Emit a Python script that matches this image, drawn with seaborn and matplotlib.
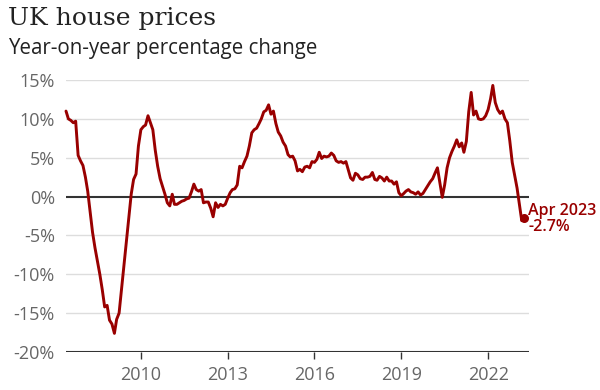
import pandas as pd
import matplotlib
matplotlib.use("Agg")
import matplotlib.pyplot as plt
import matplotlib.dates as mdates
from matplotlib.ticker import FuncFormatter
import seaborn as sns

# ===============================
# Data: annual % change, monthly from Jun 2007 to Apr 2023
# ===============================
start_month = "2007-06-01"
v2007 = [11.0, 10.0, 9.8, 9.5, 9.7, 5.3, 4.6]
v2008 = [4.0, 2.5, 0.7, -2.0, -4.6, -6.6, -8.3, -10.0, -12.0, -14.2, -14.0, -15.9]
v2009 = [-16.4, -17.6, -15.8, -15.0, -12.0, -9.0, -6.0, -2.8, 0.3, 2.2, 2.9, 6.5]
v2010 = [8.6, 9.0, 9.2, 10.4, 9.5, 8.6, 6.0, 3.9, 2.3, 1.3, 0.3, -0.8]
v2011 = [-1.2, 0.3, -1.0, -1.0, -0.8, -0.6, -0.5, -0.3, -0.2, 0.6, 1.6, 0.9]
v2012 = [0.7, 0.9, -0.8, -0.7, -0.7, -1.5, -2.6, -0.8, -1.4, -1.0, -1.2, -1.0]
v2013 = [-0.2, 0.5, 0.9, 1.0, 1.5, 3.9, 3.7, 4.5, 5.2, 6.5, 8.2, 8.6]
v2014 = [8.8, 9.4, 10.0, 10.9, 11.1, 11.8, 10.6, 11.0, 9.4, 8.3, 7.8, 7.0]
v2015 = [6.5, 5.4, 5.1, 5.2, 4.6, 3.3, 3.5, 3.2, 3.8, 3.9, 3.7, 4.5]
v2016 = [4.4, 4.8, 5.7, 4.9, 5.2, 5.1, 5.2, 5.6, 5.3, 4.6, 4.4, 4.5]
v2017 = [4.3, 4.5, 3.5, 2.4, 2.1, 3.0, 2.8, 2.3, 2.2, 2.5, 2.5, 2.6]
v2018 = [3.1, 2.2, 2.1, 2.6, 2.4, 2.0, 2.5, 2.0, 2.0, 1.6, 1.9, 0.5]
v2019 = [0.1, 0.4, 0.7, 0.9, 0.6, 0.5, 0.3, 0.6, 0.2, 0.4, 0.9, 1.4]
v2020 = [1.9, 2.3, 3.0, 3.7, 1.8, -0.1, 1.5, 3.7, 5.0, 5.8, 6.5, 7.3]
v2021 = [6.4, 6.9, 5.7, 7.1, 10.9, 13.4, 10.5, 11.0, 10.0, 9.9, 10.0, 10.4]
v2022 = [11.2, 12.6, 14.3, 12.1, 11.2, 10.7, 11.0, 10.0, 9.5, 7.2, 4.4, 2.8]
v2023 = [1.1, -1.1, -3.1, -2.7]

y_ticks = [15, 10, 5, 0, -5, -10, -15, -20]
x_tick_years = [2010, 2013, 2016, 2019, 2022]
last_label = "Apr 2023"

values = (v2007 + v2008 + v2009 + v2010 + v2011 + v2012 + v2013 + v2014
          + v2015 + v2016 + v2017 + v2018 + v2019 + v2020 + v2021 + v2022 + v2023)
df = pd.DataFrame({
    "date": pd.date_range(start_month, periods=len(values), freq="MS"),
    "change": values,
})

# ===============================
# Plot
# ===============================
sns.set_theme(style="white")
plt.rcParams["font.family"] = ["Open Sans", "DejaVu Sans"]

red = "#990000"
fig = plt.figure(figsize=(6, 3.9), dpi=100)
ax = fig.add_axes([0.11, 0.0974, 0.7717, 0.6975])

for v in y_ticks:
    if v in (0, -20):
        ax.axhline(v, color="#333333", lw=1.5, zorder=2)
    else:
        ax.axhline(v, color="#dddddd", lw=1.0, zorder=1)

sns.lineplot(data=df, x="date", y="change", color=red, lw=2.1, ax=ax,
             zorder=3, clip_on=False)

last = df.iloc[-1]
ax.scatter([last["date"]], [last["change"]], s=30, color=red, zorder=4,
           clip_on=False)
ax.annotate(f"{last_label}\n{last['change']:.1f}%",
            xy=(last["date"], last["change"]), xytext=(3, -1),
            textcoords="offset points", ha="left", va="center",
            color=red, fontsize=11.5, fontweight="semibold", linespacing=0.95,
            annotation_clip=False)

ax.set_xlim(pd.Timestamp("2007-06-01"), pd.Timestamp("2023-06-01"))
ax.set_ylim(-20, 15)
ax.set_yticks(y_ticks)
ax.yaxis.set_major_formatter(FuncFormatter(lambda v, p: f"{v:.0f}%"))
ax.set_xticks([pd.Timestamp(f"{y}-01-01") for y in x_tick_years])
ax.xaxis.set_major_formatter(mdates.DateFormatter("%Y"))
ax.set_xlabel("")
ax.set_ylabel("")
for s in ax.spines.values():
    s.set_visible(False)
ax.tick_params(axis="y", length=0, pad=8, labelsize=13, labelcolor="#666666")
ax.tick_params(axis="x", length=5, width=1, color="#333333", pad=5,
               labelsize=13, labelcolor="#666666", bottom=True)

fig.text(0.013, 0.952, "UK house prices", family="DejaVu Serif",
         fontsize=18, color="#222222", va="center", ha="left")
fig.text(0.013, 0.876, "Year-on-year percentage change", fontsize=14.8,
         color="#222222", va="center", ha="left")

fig.savefig("out.png", dpi=100)
